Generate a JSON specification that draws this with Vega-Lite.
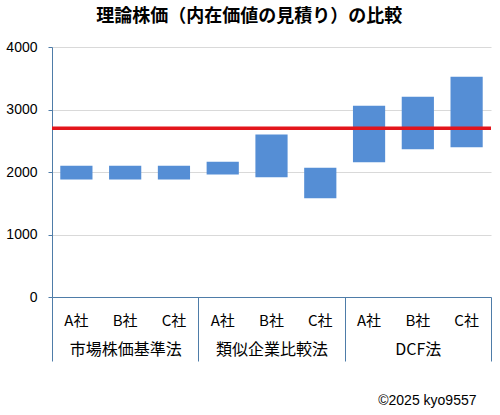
{
  "$schema": "https://vega.github.io/schema/vega-lite/v6.json",
  "autosize": "none",
  "width": 439,
  "height": 250,
  "padding": {"left": 52, "top": 47, "right": 9, "bottom": 118},
  "background": "white",
  "config": {
    "view": {"stroke": null},
    "font": "Noto Sans CJK JP"
  },
  "title": {
    "text": "理論株価（内在価値の見積り）の比較",
    "fontSize": 18,
    "fontWeight": "bold",
    "font": "Noto Sans CJK JP",
    "color": "#000000",
    "anchor": "middle",
    "frame": "bounds",
    "offset": 14
  },
  "datasets": {
    "ranges": [
      {"group": "市場株価基準法", "company": "A社", "key": "市場株価基準法|A社", "low": 1880, "high": 2100},
      {"group": "市場株価基準法", "company": "B社", "key": "市場株価基準法|B社", "low": 1880, "high": 2100},
      {"group": "市場株価基準法", "company": "C社", "key": "市場株価基準法|C社", "low": 1880, "high": 2100},
      {"group": "類似企業比較法", "company": "A社", "key": "類似企業比較法|A社", "low": 1960, "high": 2165},
      {"group": "類似企業比較法", "company": "B社", "key": "類似企業比較法|B社", "low": 1915, "high": 2600},
      {"group": "類似企業比較法", "company": "C社", "key": "類似企業比較法|C社", "low": 1580, "high": 2070},
      {"group": "DCF法", "company": "A社", "key": "DCF法|A社", "low": 2155, "high": 3060},
      {"group": "DCF法", "company": "B社", "key": "DCF法|B社", "low": 2365, "high": 3205},
      {"group": "DCF法", "company": "C社", "key": "DCF法|C社", "low": 2395, "high": 3525}
    ],
    "price": [{"price": 2700}]
  },
  "resolve": {"scale": {"x": "independent"}, "axis": {"x": "independent"}},
  "layer": [
    {
      "data": {"name": "ranges"},
      "mark": {"type": "bar", "color": "#558ED5"},
      "encoding": {
        "x": {
          "field": "key",
          "type": "nominal",
          "sort": null,
          "scale": {"paddingInner": 0.34, "paddingOuter": 0.17},
          "axis": {
            "orient": "bottom",
            "title": null,
            "domain": false,
            "ticks": false,
            "tickSize": 0,
            "labelAngle": 0,
            "labelExpr": "split(datum.value, '|')[1]",
            "labelFontSize": 15,
            "labelColor": "#000000",
            "labelPadding": 16,
            "grid": false
          }
        },
        "y": {
          "field": "low",
          "type": "quantitative",
          "scale": {"domain": [0, 4000], "nice": false},
          "axis": {
            "title": null,
            "values": [0, 500, 1000, 1500, 2000, 2500, 3000, 3500, 4000],
            "labelExpr": "datum.value % 1000 === 0 ? datum.label : ''",
            "format": "d",
            "labelFontSize": 14,
            "labelColor": "#000000",
            "labelPadding": 11,
            "labelFont": "Liberation Sans",
            "tickSize": 4,
            "tickColor": "#4E7CA8",
            "domainColor": "#4E7CA8",
            "grid": true,
            "gridColor": {"condition": {"test": "datum.value % 1000 === 0", "value": "#d9d9d9"}, "value": "#efefef"}
          }
        },
        "y2": {"field": "high"}
      }
    },
    {
      "data": {"name": "ranges"},
      "mark": {"type": "bar", "opacity": 0},
      "encoding": {
        "x": {
          "field": "group",
          "type": "nominal",
          "sort": null,
          "scale": {"paddingInner": 0, "paddingOuter": 0},
          "axis": {
            "orient": "bottom",
            "title": "©2025 kyo9557",
            "titleFontSize": 14,
            "titleFontWeight": "normal",
            "titleFont": "Liberation Sans",
            "titleColor": "#000000",
            "titleAnchor": "end",
            "titleX": 424,
            "titlePadding": 32,
            "domain": true,
            "domainColor": "#4E7CA8",
            "ticks": true,
            "tickBand": "extent",
            "tickSize": 64,
            "tickColor": "#4E7CA8",
            "labelAngle": 0,
            "labelFontSize": 16,
            "labelColor": "#000000",
            "labelPadding": -20,
            "grid": false
          }
        },
        "y": {"field": "low", "type": "quantitative"},
        "y2": {"field": "high"}
      }
    },
    {
      "data": {"name": "price"},
      "mark": {"type": "rule", "color": "#E3151C", "strokeWidth": 3.5},
      "encoding": {
        "y": {"field": "price", "type": "quantitative"}
      }
    }
  ]
}
